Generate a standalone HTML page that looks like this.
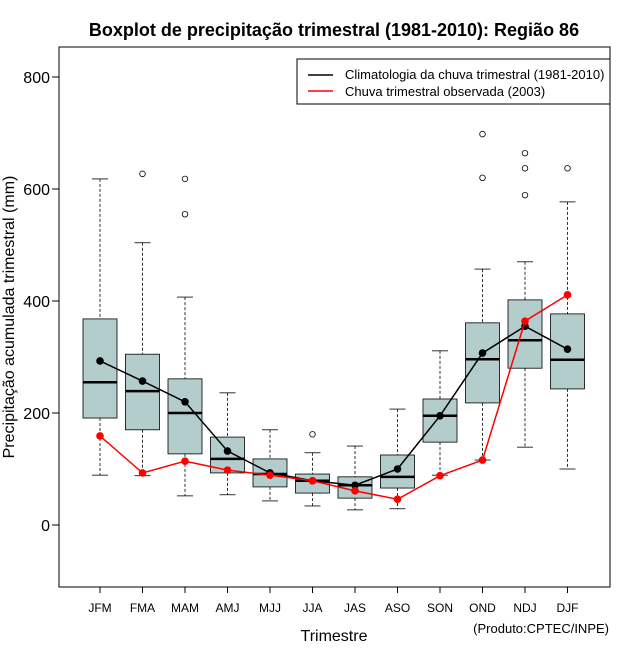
<!DOCTYPE html>
<html><head><meta charset="utf-8"><style>
body{margin:0;background:#fff;}
svg{display:block;font-family:"Liberation Sans",sans-serif;}
</style></head><body>
<svg id="chart" width="640" height="660" viewBox="0 0 640 660">
<rect width="640" height="660" fill="#fff"/>
<text x="334" y="36" text-anchor="middle" font-size="18" font-weight="bold">Boxplot de precipitação trimestral (1981-2010): Região 86</text>
<rect x="59" y="47" width="551" height="540" fill="none" stroke="#000" stroke-width="1"/>
<g id="yaxis"></g>
<g id="xaxis"></g>
<g id="boxes"></g>
<g id="lines"></g>
<text transform="translate(14,317) rotate(-90)" text-anchor="middle" font-size="16">Precipitação acumulada trimestral (mm)</text>
<text x="334" y="641" text-anchor="middle" font-size="16">Trimestre</text>
<text x="609" y="633" text-anchor="end" font-size="13">(Produto:CPTEC/INPE)</text>
<g>
<rect x="297" y="59" width="313" height="45" fill="#fff" stroke="#000"/>
<line x1="308" y1="75" x2="333" y2="75" stroke="#000" stroke-width="1.5"/>
<text x="345" y="79" font-size="13">Climatologia da chuva trimestral (1981-2010)</text>
<line x1="308" y1="91" x2="333" y2="91" stroke="red" stroke-width="1.5"/>
<text x="345" y="96" font-size="13">Chuva trimestral observada (2003)</text>
</g>
</svg>
<script>
const categories=["JFM","FMA","MAM","AMJ","MJJ","JJA","JAS","ASO","SON","OND","NDJ","DJF"];
const whiskerHigh=[618,504,407,236,170,129,141,207,311,457,470,577];
const q3=[368,305,261,157,118,91,86,125,225,361,402,377];
const median=[255,239,200,118,91,79,71,86,195,296,330,295];
const q1=[191,170,127,93,68,57,48,66,148,218,280,243];
const whiskerLow=[89,88,52,54,43,34,27,29,89,116,139,100];
const outliers=[[],[627],[618,555],[],[],[162],[],[],[],[698,620],[664,637,589],[637]];
const climatology=[293,257,220,132,93,79,71,100,195,307,355,314];
const observed=[159,93,114,98,89,79,61,46,88,116,364,411];
const yTicks=[0,200,400,600,800];
const NS="http://www.w3.org/2000/svg";
function y(v){return 525-v*0.56;}
function x(i){return 100+i*42.5;}
function mk(tag,attrs,parent){const e=document.createElementNS(NS,tag);for(const k in attrs)e.setAttribute(k,attrs[k]);parent.appendChild(e);return e;}
const ya=document.getElementById('yaxis'),xa=document.getElementById('xaxis'),bx=document.getElementById('boxes'),ln=document.getElementById('lines');
yTicks.forEach(t=>{
 const l=mk('line',{x1:52,x2:59,y1:y(t),y2:y(t),stroke:'#000'},ya);
 
 
 const tx=mk('text',{x:50,y:y(t)+6,'text-anchor':'end','font-size':16},ya);
 tx.textContent=t;
 
 
});
categories.forEach((c,i)=>{
 const cx=x(i);
 mk('line',{x1:cx,x2:cx,y1:587,y2:593,stroke:'#000'},xa);
 const tx=mk('text',{x:cx,y:612,'text-anchor':'middle','font-size':12},xa);
 tx.textContent=c;
 
 
 const g=mk('g',{},bx);
 
 
 mk('line',{x1:cx,x2:cx,y1:y(whiskerHigh[i]),y2:y(q3[i]),stroke:'#000','stroke-dasharray':'3,2','stroke-width':0.8},g);
 mk('line',{x1:cx,x2:cx,y1:y(q1[i]),y2:y(whiskerLow[i]),stroke:'#000','stroke-dasharray':'3,2','stroke-width':0.8},g);
 mk('line',{x1:cx-8,x2:cx+8,y1:y(whiskerHigh[i]),y2:y(whiskerHigh[i]),stroke:'#000','stroke-width':0.8},g);
 mk('line',{x1:cx-8,x2:cx+8,y1:y(whiskerLow[i]),y2:y(whiskerLow[i]),stroke:'#000','stroke-width':0.8},g);
 mk('rect',{x:cx-17,y:y(q3[i]),width:34,height:y(q1[i])-y(q3[i]),fill:'#b3cccc',stroke:'#000','stroke-width':0.8},g);
 mk('line',{x1:cx-17,x2:cx+17,y1:y(median[i]),y2:y(median[i]),stroke:'#000','stroke-width':2.5},g);
 outliers[i].forEach(o=>{
  const ci=mk('circle',{cx:cx,cy:y(o),r:2.8,fill:'none',stroke:'#000','stroke-width':0.8},g);
  
  
 });
});
function series(vals,color,name){
 const p=mk('polyline',{points:vals.map((v,i)=>x(i)+','+y(v)).join(' '),fill:'none',stroke:color,'stroke-width':1.5},ln);
 
 
 vals.forEach((v,i)=>{
  const c=mk('circle',{cx:x(i),cy:y(v),r:3.8,fill:color},ln);
  
  
 });
}
series(climatology,'#000','climatology');
series(observed,'red','observed');
</script>
</body></html>
